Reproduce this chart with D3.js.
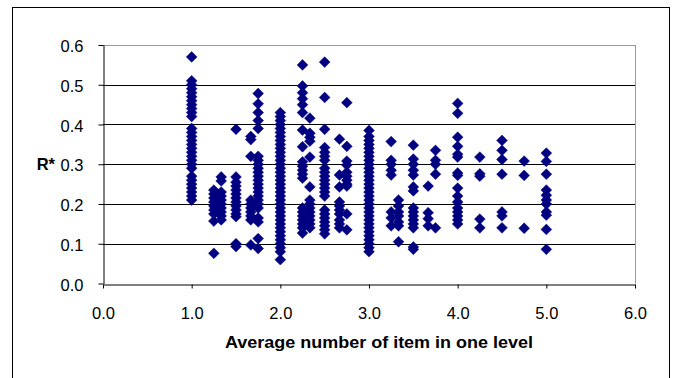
<!DOCTYPE html>
<html>
<head>
<meta charset="utf-8">
<script src="https://cdn.jsdelivr.net/npm/d3@7"></script>
<style>
  body { margin: 0; background: #fff; }
  svg { display: block; }
  text { font-family: Arial, "Liberation Sans", sans-serif; }
</style>
</head>
<body>
<svg id="chart"></svg>
<script>
// x positions (average number of items in one level)
const xLevels = [1.0, 1.25, 1.333, 1.5, 1.667, 1.75, 2.0, 2.25, 2.333, 2.5, 2.667, 2.75,
                 3.0, 3.25, 3.333, 3.5, 3.667, 3.75, 4.0, 4.25, 4.5, 4.75, 5.0];

// R* values
const r100 = [0.57, 0.51, 0.50, 0.49, 0.48, 0.47, 0.46, 0.45, 0.44, 0.43, 0.42, 0.39, 0.38, 0.37, 0.36,
              0.35, 0.34, 0.33, 0.32, 0.31, 0.30, 0.29, 0.27, 0.26, 0.25, 0.24, 0.23, 0.22, 0.21];
const r125 = [0.235, 0.225, 0.215, 0.205, 0.195, 0.185, 0.175, 0.157, 0.076];
const r133 = [0.268, 0.258, 0.23, 0.22, 0.21, 0.20, 0.19, 0.18, 0.17, 0.16];
const r150 = [0.388, 0.268, 0.255, 0.245, 0.235, 0.225, 0.215, 0.205, 0.195, 0.185, 0.175, 0.168, 0.10, 0.093];
const r167 = [0.37, 0.362, 0.32, 0.21, 0.20, 0.19, 0.18, 0.17, 0.16, 0.097];
const r175 = [0.478, 0.452, 0.43, 0.41, 0.39, 0.32, 0.31, 0.30, 0.29, 0.28, 0.27, 0.26, 0.25, 0.24,
              0.23, 0.22, 0.21, 0.20, 0.19, 0.165, 0.155, 0.113, 0.088];
const r200 = [0.43, 0.42, 0.41, 0.40, 0.39, 0.38, 0.37, 0.36, 0.35, 0.34, 0.33, 0.32, 0.31, 0.30, 0.29,
              0.28, 0.27, 0.26, 0.25, 0.24, 0.23, 0.22, 0.21, 0.20, 0.19, 0.18, 0.17, 0.16, 0.15, 0.14,
              0.13, 0.12, 0.11, 0.10, 0.09, 0.08, 0.06];
const r225 = [0.55, 0.497, 0.48, 0.465, 0.45, 0.43, 0.386, 0.344, 0.306, 0.295, 0.285, 0.275, 0.265,
              0.19, 0.18, 0.17, 0.16, 0.15, 0.14, 0.127];
const r233 = [0.416, 0.378, 0.368, 0.358, 0.318, 0.243, 0.21, 0.20, 0.19, 0.18, 0.17, 0.16, 0.15, 0.14];
const r250 = [0.557, 0.468, 0.388, 0.342, 0.33, 0.32, 0.31, 0.29, 0.28, 0.27, 0.26, 0.25, 0.24, 0.23,
              0.22, 0.185, 0.175, 0.165, 0.155, 0.145, 0.135, 0.125];
const r267 = [0.363, 0.273, 0.243, 0.205, 0.195, 0.185, 0.175, 0.16, 0.15, 0.14];
const r275 = [0.455, 0.345, 0.308, 0.298, 0.28, 0.27, 0.26, 0.25, 0.245, 0.175, 0.135];
const r300 = [0.385, 0.37, 0.36, 0.35, 0.34, 0.33, 0.32, 0.31, 0.30, 0.29, 0.28, 0.27, 0.26, 0.25, 0.24,
              0.23, 0.22, 0.21, 0.20, 0.19, 0.18, 0.17, 0.16, 0.15, 0.14, 0.13, 0.12, 0.11, 0.10, 0.09, 0.08];
const r325 = [0.357, 0.31, 0.30, 0.285, 0.273, 0.18, 0.165, 0.145];
const r333 = [0.21, 0.195, 0.18, 0.17, 0.155, 0.145, 0.105];
const r350 = [0.348, 0.313, 0.30, 0.285, 0.273, 0.243, 0.233, 0.19, 0.18, 0.17, 0.16, 0.15, 0.14, 0.092, 0.086];
const r367 = [0.245, 0.178, 0.163, 0.145];
const r375 = [0.335, 0.31, 0.30, 0.275, 0.14];
const r400 = [0.453, 0.428, 0.368, 0.345, 0.325, 0.318, 0.278, 0.272, 0.24, 0.22, 0.205, 0.19, 0.18, 0.17, 0.16, 0.15];
const r425 = [0.318, 0.276, 0.27, 0.162, 0.14];
const r450 = [0.36, 0.335, 0.312, 0.275, 0.18, 0.17, 0.14];
const r475 = [0.308, 0.272, 0.139];
const r500 = [0.328, 0.307, 0.275, 0.235, 0.222, 0.21, 0.20, 0.18, 0.172, 0.136, 0.086];

const columns = [r100, r125, r133, r150, r167, r175, r200, r225, r233, r250, r267, r275,
                 r300, r325, r333, r350, r367, r375, r400, r425, r450, r475, r500];

const xTicks = [0, 1, 2, 3, 4, 5, 6];
const yTicks = [0, 0.1, 0.2, 0.3, 0.4, 0.5, 0.6];
const xTitle = "Average number of item in one level";
const yTitle = "R*";

// flatten to points
const points = [];
columns.forEach((col, i) => col.forEach(v => points.push({ x: xLevels[i], r: v })));

const W = 678, H = 378;
const padL = 103, padR = 635, padT = 45, padB = 283.5;
const fs = 16.5;

const svg = d3.select("#chart").attr("width", W).attr("height", H);

// outer chart frame
svg.append("rect").attr("x", 12.5).attr("y", 7.5).attr("width", 657).attr("height", 400)
  .attr("fill", "#fff").attr("stroke", "#000").attr("stroke-width", 1);

const x = d3.scaleLinear().domain([0, 6]).range([padL, padR]);
const y = d3.scaleLinear().domain([0, 0.6]).range([padB, padT]);

// gridlines
svg.append("g").selectAll("line").data(yTicks.filter(d => d > 0 && d < 0.6)).enter().append("line")
  .attr("x1", padL).attr("x2", padR)
  .attr("y1", d => Math.round(y(d)) + 0.5).attr("y2", d => Math.round(y(d)) + 0.5)
  .attr("stroke", "#000").attr("stroke-width", 1);

// plot border top / right in grey
svg.append("line").attr("x1", padL).attr("x2", padR).attr("y1", padT + 0.5).attr("y2", padT + 0.5)
  .attr("stroke", "#999");
svg.append("line").attr("x1", padR + 0.5).attr("x2", padR + 0.5).attr("y1", padT).attr("y2", padB)
  .attr("stroke", "#999");

// axes
const axisX = d3.axisBottom(x).tickValues(xTicks).tickFormat(d3.format(".1f")).tickSizeInner(4).tickSizeOuter(0).tickPadding(19);
const gx = svg.append("g").attr("transform", "translate(0," + (Math.round(padB) + 0.5) + ")").call(axisX);
gx.select(".domain").attr("stroke", "#000");
gx.selectAll("text").attr("font-size", fs).attr("fill", "#000").attr("font-family", "Arial, 'Liberation Sans', sans-serif");

const axisY = d3.axisLeft(y).tickValues(yTicks).tickFormat(d3.format(".1f")).tickSizeInner(5).tickSizeOuter(0).tickPadding(15);
const gy = svg.append("g").attr("transform", "translate(" + (padL + 0.5) + ",0)").call(axisY);
gy.select(".domain").attr("stroke", "#000");
gy.selectAll("text").attr("font-size", fs).attr("fill", "#000").attr("dy", "0.4em").attr("font-family", "Arial, 'Liberation Sans', sans-serif");

// axis titles
svg.append("text").attr("x", 379).attr("y", 348).attr("text-anchor", "middle")
  .attr("font-size", fs).attr("font-weight", "bold").attr("textLength", 308).attr("lengthAdjust", "spacingAndGlyphs")
  .text(xTitle);
svg.append("text").attr("x", 55).attr("y", y(0.3)).attr("dy", "0.36em").attr("text-anchor", "end")
  .attr("font-size", fs).attr("font-weight", "bold").text(yTitle);

// diamond markers
const s = 5.4;
const diamond = "M0," + (-s) + "L" + s + ",0L0," + s + "L" + (-s) + ",0Z";
svg.append("g").selectAll("path").data(points).enter().append("path")
  .attr("d", diamond)
  .attr("transform", d => "translate(" + x(d.x) + "," + y(d.r) + ")")
  .attr("fill", "#000080").attr("stroke", "#000080").attr("stroke-width", 0.5);
</script>
</body>
</html>
